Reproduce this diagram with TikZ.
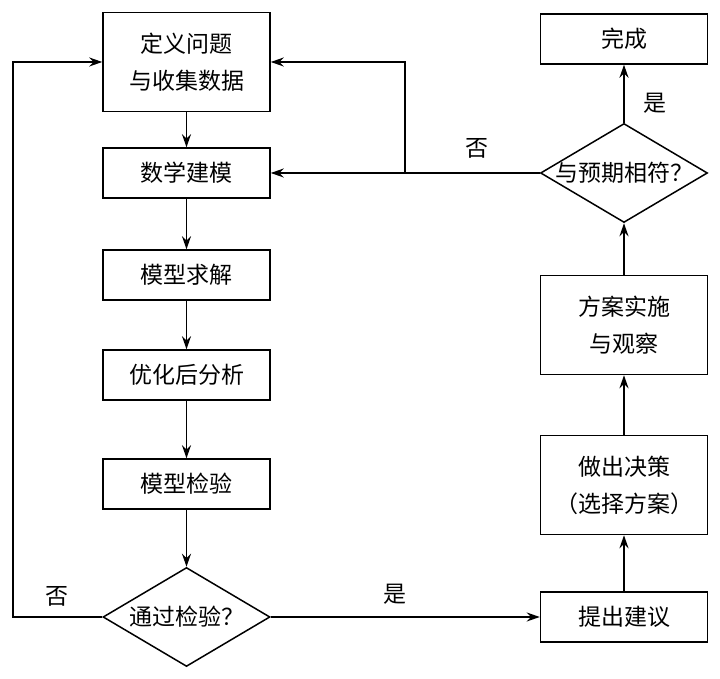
\documentclass[tikz,border=0pt]{standalone}
\usepackage{fontspec}
\setmainfont{Noto Sans CJK SC}
\usetikzlibrary{arrows.meta,shapes.geometric,positioning}

\begin{document}
\begin{tikzpicture}[x=1pt,y=1pt,->,>={Stealth[length=13pt,width=9pt]},line width=1.5pt,
                    font=\fontsize{23}{37}\selectfont]
  \tikzstyle{box}=[rectangle,draw=black,text=black,minimum width=167pt,minimum height=50pt,align=center]
  \tikzstyle{tall}=[box,minimum height=99pt]
  \tikzstyle{decision}=[diamond,draw=black,text=black,minimum width=167pt,minimum height=99pt,inner sep=0pt]

  \useasboundingbox (0,0) rectangle (720,679);

  % left column
  \node[tall]     (define)  at (186.5,617) {定义问题\\与收集数据};
  \node[box]      (model)   at (186.5,506) {数学建模};
  \node[box]      (solve)   at (186.5,404) {模型求解};
  \node[box]      (analyse) at (186.5,304) {优化后分析};
  \node[box]      (verify)  at (186.5,195) {模型检验};
  \node[decision] (pass)    at (186.5,62) [label=center:通过检验？] {};

  % right column
  \node[box]      (advice)  at (624,62)  {提出建议};
  \node[tall]     (decide)  at (624,194) {做出决策\\（选择方案）};
  \node[tall]     (carry)   at (624,354) {方案实施\\与观察};
  \node[decision] (expect)  at (624,506) [label=center:与预期相符？] {};
  \node[box]      (done)    at (624,640) {完成};

  \coordinate (back)  at (13,62);
  \coordinate (split) at (405,506);

  \node (no1)  at (57,83)   {否};
  \node (yes1) at (395,85)  {是};
  \node (no2)  at (477,531) {否};
  \node (yes2) at (655,576) {是};

  \path (define)  edge (model)
        (model)   edge (solve)
        (solve)   edge (analyse)
        (analyse) edge (verify)
        (verify)  edge (pass)
        (pass)    edge (advice)
        (advice)  edge (decide)
        (decide)  edge (carry)
        (carry)   edge (expect)
        (expect)  edge (done)
        (expect)  edge (model);

  \draw (pass.west) -- (back) |- (define.west);
  \draw (split) |- (define.east);
\end{tikzpicture}
\end{document}
